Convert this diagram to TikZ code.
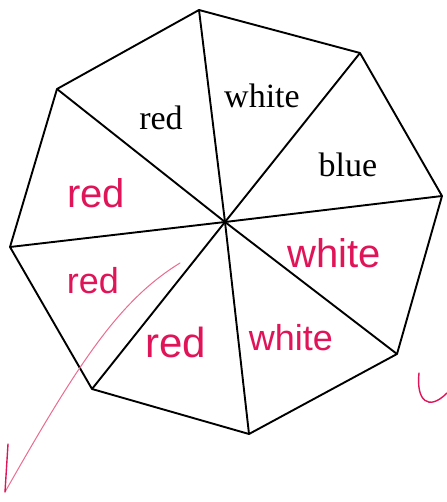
\documentclass[tikz,border=0pt]{standalone}
\usepackage{fontspec}
\setmainfont{Liberation Serif}
\newfontfamily\handfont{Liberation Sans}
\definecolor{pinkink}{HTML}{E01458}
\definecolor{lightink}{HTML}{EC6C90}
\begin{document}
\begin{tikzpicture}[x=1pt,y=-1pt,
  edge/.style={line width=1.9pt,line join=round},
  printed/.style={font=\fontsize{34}{36}\selectfont,anchor=base,inner sep=0pt},
  hand/.style={font=\handfont\fontsize{40}{42}\selectfont,text=pinkink,anchor=base,inner sep=0pt},
  ink/.style={draw=pinkink,line width=1.4pt,line cap=round,line join=round}]
\useasboundingbox[fill=white] (0,0) rectangle (446,502);
\coordinate (O) at (225,222);
\coordinate (v1) at (199,10);
\coordinate (v2) at (360,53);
\coordinate (v3) at (442,196);
\coordinate (v4) at (397,354);
\coordinate (v5) at (249,434);
\coordinate (v6) at (92,389);
\coordinate (v7) at (10,247);
\coordinate (v8) at (57,89);
\draw[edge] (v1)--(v2)--(v3)--(v4)--(v5)--(v6)--(v7)--(v8)--cycle;
\foreach \v in {v1,v2,v3,v4,v5,v6,v7,v8} \draw[edge] (O)--(\v);
% printed labels
\node[printed] (t1) at (161,130) {red};
\node[printed] (t2) at (262,108) {white};
\node[printed] (t3) at (348,177) {blue};
% handwritten labels
\node[hand] (h1) at (96,208) {red};
\node[hand] (h2) at (334,267) {white};
\node[hand,font=\handfont\fontsize{36}{40}\selectfont] (h3) at (93,293) {red};
\node[hand,font=\handfont\fontsize{42}{44}\selectfont] (h4) at (176,357) {red};
\node[hand,font=\handfont\fontsize{36}{40}\selectfont] (h5) at (291,350) {white};
% tick marks
\coordinate (c1) at (180,263);
\coordinate (c2) at (5,492);
\coordinate (c3) at (8,444);
\draw[draw=lightink,line width=1pt,line cap=round] (c1) .. controls (120,300) and (80,360) .. (c2);
\draw[ink] (c3) -- (c2);
\coordinate (u1) at (419,373);
\coordinate (u2) at (447,393);
\draw[ink] (u1) .. controls (416,400) and (428,412) .. (u2);
\end{tikzpicture}
\end{document}
